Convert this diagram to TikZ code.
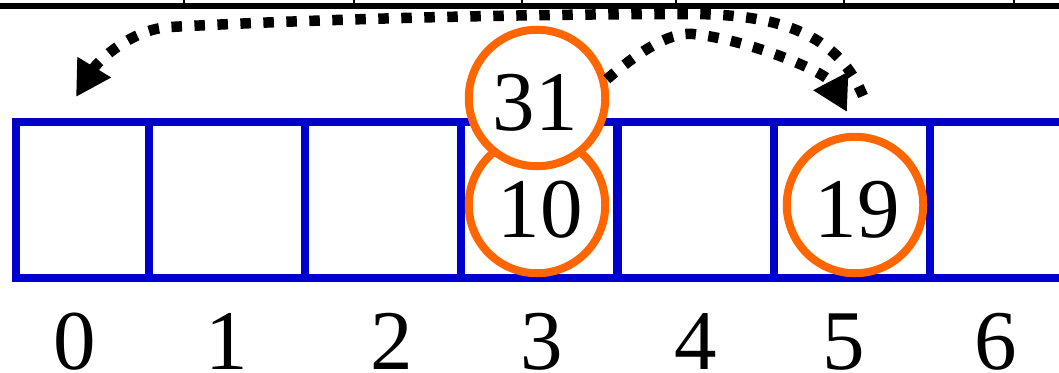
\documentclass[tikz,border=0pt]{standalone}
\usepackage{fontspec}
\setmainfont{Liberation Serif}
\usetikzlibrary{arrows.meta}
\definecolor{cellblue}{HTML}{0000CC}
\definecolor{ringorange}{HTML}{FF6600}
\begin{document}
\begin{tikzpicture}[x=1pt,y=-1pt,
  cell/.style={draw=cellblue, line width=8pt, minimum height=156pt, minimum width=156pt, inner sep=0pt, outer sep=0pt},
  ring/.style={circle, draw=ringorange, line width=8pt, fill=white, minimum size=136.5pt, inner sep=0pt},
  num/.style={font=\fontsize{85}{85}\selectfont, inner sep=0pt, anchor=base},
  hop/.style={line width=10.5pt, dash pattern=on 10.5pt off 12.5pt, -{Triangle[length=35pt,width=37pt]}},
  rail/.style={line width=5.7pt},
  tick/.style={line width=2pt}
]
\useasboundingbox (0,0) rectangle (1059,372);
\clip (0,0) rectangle (1059,372);
% upper array edge
\draw[rail] (0,6.2) -- (1059,6.2);
\foreach \x in {184,353.5,522,675.5,843.5,1013.5} \draw[tick] (\x,0) -- (\x,6);
% cells
\node[cell, minimum width=133.5pt] (cell0) at (82.25,199.5) {};
\node[cell] (cell1) at (227,199.5) {};
\node[cell] (cell2) at (383,199.5) {};
\node[cell] (cell3) at (539,199.5) {};
\node[cell] (cell4) at (695.5,199.5) {};
\node[cell] (cell5) at (851.75,199.5) {};
\node[cell] (cell6) at (1007.5,199.5) {};
% keys
\node[ring] (c10) at (537,205) {};
\node[ring] (c31) at (537,98) {};
\node[ring] (c19) at (855,205) {};
\node[num] (t31) at (535,130) {31};
\node[num] (t10) at (540,237) {10};
\node[num] (t19) at (857,237) {19};
% indices
\node[num] (i0) at (74.5,369.5) {0};
\node[num] (i1) at (227,369.5) {1};
\node[num] (i2) at (391.5,369.5) {2};
\node[num] (i3) at (541.5,369.5) {3};
\node[num] (i4) at (696,369.5) {4};
\node[num] (i5) at (843.5,369.5) {5};
\node[num] (i6) at (996,369.5) {6};
% probe arrows
\coordinate (s1) at (863,96);
\coordinate (e1) at (76,97);
\coordinate (e2) at (847,112);
\draw[hop] (s1) .. controls (840,40) and (790,14) .. (690,14)
  .. controls (500,14) and (300,20) .. (170,27)
  .. controls (130,29) and (96.8,63) .. (e1);
\draw[hop] (c31.15) .. controls (635,55) and (668,31.5) .. (693,34)
  .. controls (750,40) and (826,72) .. (e2);
\end{tikzpicture}
\end{document}
